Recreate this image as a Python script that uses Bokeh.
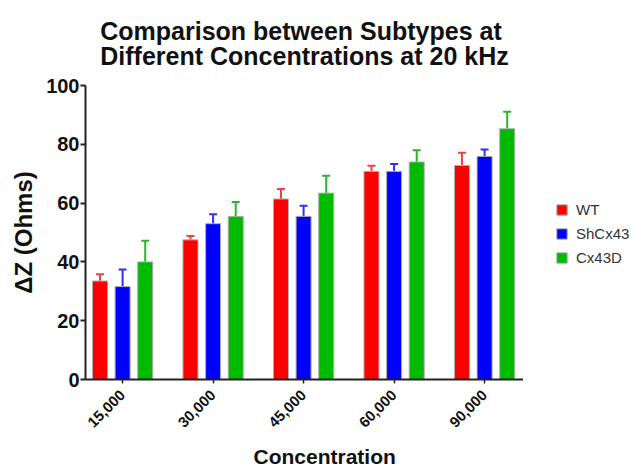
from bokeh.plotting import figure
from bokeh.layouts import row
from bokeh.models import (ColumnDataSource, Range1d, FixedTicker, Legend, LegendItem,
                          Whisker, TeeHead, Title)
from bokeh.embed import file_html
from bokeh.resources import INLINE

concentrations = ["15,000", "30,000", "45,000", "60,000", "90,000"]
series_names = ["WT", "ShCx43", "Cx43D"]
wt_mean = [33.5, 47.5, 61.4, 70.8, 72.8]
wt_err = [35.8, 48.8, 64.8, 72.7, 77.1]
sh_mean = [31.6, 53.0, 55.5, 70.8, 75.9]
sh_err = [37.4, 56.2, 59.1, 73.3, 78.2]
cx_mean = [40.0, 55.5, 63.4, 74.0, 85.3]
cx_err = [47.2, 60.4, 69.3, 78.0, 91.1]
y_ticks = [0, 20, 40, 60, 80, 100]

colors = ["#FF0000", "#0000FF", "#00BB00"]
err_colors = ["#F04040", "#3030F0", "#30B030"]
offsets = [-0.25, 0.0, 0.25]
bar_w = 0.166
FONT = "Liberation Sans"

p = figure(width=523, height=475, output_backend="svg", toolbar_location=None,
           x_range=Range1d(-0.41, 4.43), y_range=Range1d(0, 100),
           min_border_left=85, min_border_right=0, min_border_top=0,
           min_border_bottom=95)
p.outline_line_color = None
p.grid.visible = False
p.background_fill_color = "white"

title = Title(text="Comparison between Subtypes at\nDifferent Concentrations at 20 kHz",
              align="center", text_font=FONT, text_font_size="25px",
              text_font_style="bold", text_color="#111111", standoff=30,
              text_line_height=0.9)
p.add_layout(title, "above")

# side figure holding the legend
p2 = figure(width=108, height=475, output_backend="svg", toolbar_location=None,
            x_range=Range1d(0, 1), y_range=Range1d(0, 1),
            min_border_left=0, min_border_right=0, min_border_top=0, min_border_bottom=0)
p2.outline_line_color = None
p2.grid.visible = False
p2.axis.visible = False

items = []
for i, (name, means, errs) in enumerate(zip(series_names, [wt_mean, sh_mean, cx_mean],
                                             [wt_err, sh_err, cx_err])):
    xs = [k + offsets[i] for k in range(len(concentrations))]
    src = ColumnDataSource(dict(x=xs, top=means, upper=errs))
    p.vbar(x="x", top="top", width=bar_w, bottom=0, source=src,
           fill_color=colors[i], line_color="#B0B0B0", line_width=1)
    w = Whisker(base="x", lower="top", upper="upper", source=src,
                line_color=err_colors[i], line_width=2,
                upper_head=TeeHead(size=8, line_color=err_colors[i], line_width=2),
                lower_head=None)
    p.add_layout(w)
    # legend proxy (outside the side figure's visible range)
    r2 = p2.vbar(x=[5], top=[1], bottom=[0], width=0.1,
                 fill_color=colors[i], line_color="#B0B0B0", line_width=1)
    items.append(LegendItem(label=name, renderers=[r2]))

legend = Legend(items=items, location=(32, 112), background_fill_alpha=0,
                border_line_color=None, label_text_font=FONT, label_text_font_size="15px",
                label_text_color="#333333", glyph_width=13, glyph_height=13,
                label_standoff=8, spacing=4, padding=0, margin=0, label_height=20)
p2.add_layout(legend)

# y axis
p.yaxis.ticker = FixedTicker(ticks=y_ticks)
p.yaxis.axis_label = "ΔZ (Ohms)"
p.yaxis.axis_label_text_font = FONT
p.yaxis.axis_label_text_font_size = "24px"
p.yaxis.axis_label_text_font_style = "bold"
p.yaxis.axis_label_text_color = "#111111"
p.yaxis.axis_label_standoff = 6
p.yaxis.major_label_text_font = FONT
p.yaxis.major_label_text_font_size = "20px"
p.yaxis.major_label_text_font_style = "bold"
p.yaxis.major_label_text_color = "#111111"
p.yaxis.axis_line_width = 2
p.yaxis.axis_line_color = "#222222"
p.yaxis.major_tick_line_width = 2
p.yaxis.major_tick_line_color = "#222222"
p.yaxis.major_tick_out = 5
p.yaxis.major_tick_in = 0
p.yaxis.minor_tick_line_color = None
p.yaxis.major_label_standoff = 1

# x axis
p.xaxis.ticker = FixedTicker(ticks=list(range(len(concentrations))))
p.xaxis.major_label_overrides = {k: c for k, c in enumerate(concentrations)}
p.xaxis.major_label_orientation = 0.785
p.xaxis.major_label_text_font = FONT
p.xaxis.major_label_text_font_size = "15px"
p.xaxis.major_label_text_font_style = "bold"
p.xaxis.major_label_text_color = "#111111"
p.xaxis.axis_line_width = 2
p.xaxis.axis_line_color = "#222222"
p.xaxis.major_tick_line_width = 1.5
p.xaxis.major_tick_line_color = "#222222"
p.xaxis.major_tick_out = 4
p.xaxis.major_tick_in = 0
p.xaxis.minor_tick_line_color = None
p.xaxis.major_label_standoff = 9

xlabel = Title(text="Concentration", align="left", offset=168, text_font=FONT,
               text_font_size="21px", text_font_style="bold", text_color="#111111",
               standoff=15)
p.add_layout(xlabel, "below")

layout = row(p, p2, spacing=0)
open("out.html", "w").write(file_html(layout, INLINE))
